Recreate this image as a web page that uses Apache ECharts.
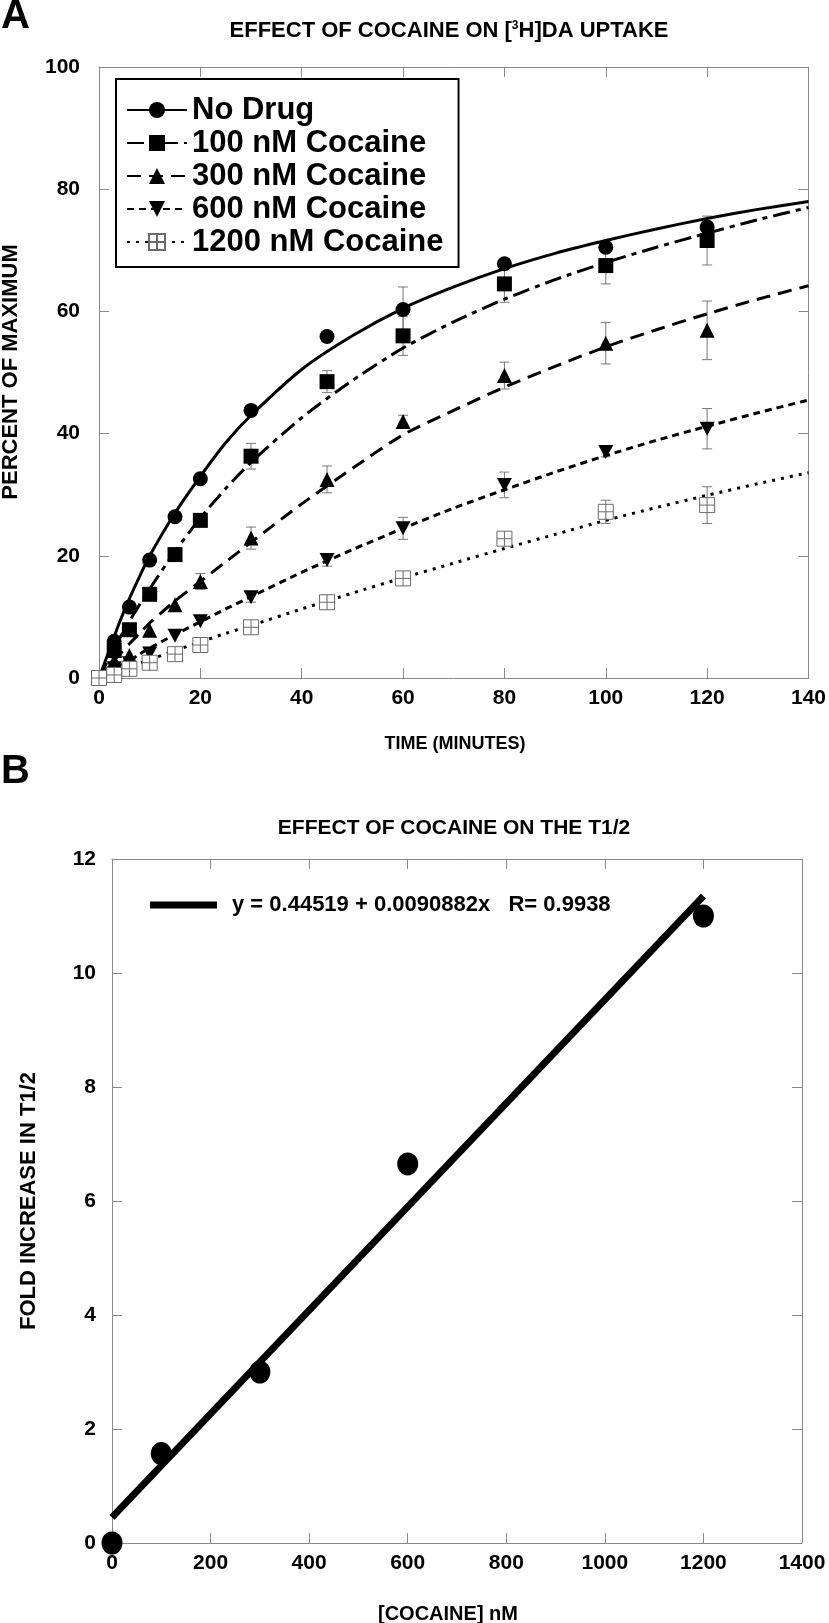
<!DOCTYPE html>
<html>
<head>
<meta charset="utf-8">
<script src="https://cdn.jsdelivr.net/npm/echarts@6/dist/echarts.min.js"></script>
<style>
html,body{margin:0;padding:0;background:#fff;}
#chart{width:829px;height:1623px;}
</style>
</head>
<body>
<div id="chart"></div>
<script>
// ---------- Panel A data ----------
const timeA = [0, 3, 6, 10, 15, 20, 30, 45, 60, 80, 100, 120];
const noDrug   = [null, 6.0, 11.6, 19.3, 26.4, 32.6, 43.8, 55.9, 60.3, 67.8, 70.5, 73.8];
const noDrugErr = [0, 0, 0, 0, 0, 0, 0, 0, 3.7, 0, 0, 0];
const coc100   = [null, 4.5, 7.9, 13.7, 20.2, 25.8, 36.3, 48.5, 56.0, 64.5, 67.5, 71.6];
const coc100Err = [0, 0, 0, 0, 0, 0, 2.1, 1.8, 3.2, 3.0, 3.0, 4.0];
const coc300   = [null, 2.8, 3.7, 7.8, 12.0, 15.8, 22.9, 32.5, 42.0, 49.5, 54.8, 56.9];
const coc300Err = [0, 0, 0, 0, 0, 1.3, 1.8, 2.2, 1.0, 2.2, 3.4, 4.8];
const coc600   = [null, 1.6, 2.4, 4.0, 6.9, 9.3, 13.2, 19.3, 24.5, 31.6, 37.0, 40.8];
const coc600Err = [0, 0, 0, 0, 0, 0, 0.8, 1.0, 1.8, 2.1, 0.8, 3.3];
const coc1200  = [0, 0.5, 1.5, 2.5, 3.9, 5.4, 8.3, 12.4, 16.3, 22.8, 27.2, 28.3];
const coc1200Err = [0, 0, 0, 0, 0, 0, 0, 0, 0.9, 0, 1.9, 3.0];

// fitted curves
const fitT       = [0, 2, 4, 6, 8, 10, 15, 20, 25, 30, 40, 50, 60, 70, 80, 90, 100, 110, 120, 130, 140];
const fitNoDrug  = [0, 4.5, 9, 13, 16.6, 20, 27, 33, 38.5, 43, 50.5, 56, 60.5, 64, 67, 69.5, 71.6, 73.5, 75.2, 76.7, 78];
const fit100     = [0, 3.3, 6.4, 9.3, 12, 14.6, 20.7, 26.2, 31, 35.3, 42.6, 48.7, 54, 58.3, 62, 65.2, 68, 70.5, 72.8, 75, 77];
const fit300     = [0, 1.9, 3.8, 5.6, 7.3, 9, 12.6, 15.8, 19, 22.2, 28.5, 34.3, 39.8, 43.8, 47.6, 51, 54.2, 57, 59.6, 62, 64.2];
const fit600     = [0, 1.0, 2.0, 2.9, 3.9, 4.9, 7.1, 9.2, 11.3, 13.3, 17.3, 21, 24.5, 27.8, 30.8, 33.7, 36.4, 38.9, 41.2, 43.4, 45.5];
const fit1200    = [0, 0.6, 1.2, 1.8, 2.4, 3.0, 4.5, 5.9, 7.3, 8.6, 11.3, 13.9, 16.4, 18.8, 21.2, 23.5, 25.8, 27.9, 29.9, 31.8, 33.6];

const seriesNamesA = ['No Drug', '100 nM Cocaine', '300 nM Cocaine', '600 nM Cocaine', '1200 nM Cocaine'];
const xTicksA = [0, 140, 20];
const yTicksA = [0, 100, 20];

// ---------- Panel B data ----------
const cocaineConc = [0, 100, 300, 600, 1200];
const foldT12     = [0, 1.57, 3.0, 6.65, 11.0];
const regX        = [0, 1200];
const regY        = [0.45, 11.35];
const regName     = 'y = 0.44519 + 0.0090882x   R= 0.9938';
const xTicksB = [0, 1400, 200];
const yTicksB = [0, 12, 2];

// ---------- styles ----------
const FONT = '"Liberation Sans", Arial, Helvetica, sans-serif';
const AX = '#8a8a8a';
const openSq = 'path://M0,0L10,0L10,10L0,10Z M5,0L5,10 M0,5L10,5';

const pairs = (xs, ys) => xs.map((x, i) => [x, ys[i]]).filter(p => p[1] !== null);
const errData = (xs, ys, es) => xs.map((x, i) => [x, ys[i] - es[i], ys[i] + es[i], es[i]]).filter(d => d[3] > 0);

const defsA = [
  {name: seriesNamesA[0], pts: noDrug, err: noDrugErr, fit: fitNoDrug, symbol: 'circle', size: 15, dash: 'solid',
   item: {color: '#000', opacity: 1}},
  {name: seriesNamesA[1], pts: coc100, err: coc100Err, fit: fit100, symbol: 'rect', size: 15, dash: [17, 6, 5, 6],
   item: {color: '#000', opacity: 1}},
  {name: seriesNamesA[2], pts: coc300, err: coc300Err, fit: fit300, symbol: 'triangle', size: 15, dash: [14, 8],
   item: {color: '#000', opacity: 1}},
  {name: seriesNamesA[3], pts: coc600, err: coc600Err, fit: fit600, symbol: 'path://M0,0L10,0L5,9Z', size: [15, 14], dash: [7, 5],
   item: {color: '#000', opacity: 1}},
  {name: seriesNamesA[4], pts: coc1200, err: coc1200Err, fit: fit1200, symbol: openSq, size: 15, dash: [3, 6],
   item: {color: '#fff', borderColor: '#6a6a6a', borderWidth: 1, opacity: 1}}
];

const errRender = function (params, api) {
  const x = api.value(0), lo = api.value(1), hi = api.value(2);
  const p1 = api.coord([x, lo]), p2 = api.coord([x, hi]);
  const w = 5;
  const st = {stroke: '#777', lineWidth: 1};
  return {type: 'group', children: [
    {type: 'line', shape: {x1: p1[0], y1: p1[1], x2: p2[0], y2: p2[1]}, style: st},
    {type: 'line', shape: {x1: p1[0] - w, y1: p1[1], x2: p1[0] + w, y2: p1[1]}, style: st},
    {type: 'line', shape: {x1: p2[0] - w, y1: p2[1], x2: p2[0] + w, y2: p2[1]}, style: st}
  ]};
};

const series = [];
// fitted curves (legend icons come from these)
defsA.forEach(d => {
  series.push({
    type: 'line', name: d.name, xAxisIndex: 0, yAxisIndex: 0,
    data: pairs(fitT, d.fit), smooth: 0.25,
    symbol: d.symbol, symbolSize: d.size, showSymbol: false,
    lineStyle: {color: '#000', width: 3, type: d.dash},
    itemStyle: d.item, z: 2, silent: true, animation: false
  });
});
// error bars
defsA.forEach(d => {
  series.push({
    type: 'custom', name: d.name, xAxisIndex: 0, yAxisIndex: 0,
    data: errData(timeA, d.pts, d.err), renderItem: errRender, z: 1, silent: true, animation: false
  });
});
// data points
defsA.forEach(d => {
  series.push({
    type: 'scatter', name: d.name, xAxisIndex: 0, yAxisIndex: 0,
    data: pairs(timeA, d.pts), symbol: d.symbol, symbolSize: d.size,
    itemStyle: d.item, z: 3, clip: false, silent: true, animation: false
  });
});
// Panel B
series.push({
  type: 'line', name: regName, xAxisIndex: 2, yAxisIndex: 2,
  data: pairs(regX, regY), symbol: 'none', showSymbol: false,
  lineStyle: {color: '#000', width: 7, cap: 'butt'}, itemStyle: {color: '#000', opacity: 1}, z: 2, silent: true, animation: false
});
series.push({
  type: 'scatter', name: 'points', xAxisIndex: 2, yAxisIndex: 2,
  data: pairs(cocaineConc, foldT12), symbol: 'circle', symbolSize: [21, 23],
  itemStyle: {color: '#000', opacity: 1}, z: 3, clip: false, silent: true, animation: false
});

const labelStyle = {fontFamily: FONT, fontWeight: 'bold', fontSize: 21, color: '#000'};
function mkAxis(gridIndex, pos, ticks, showLabel, margin) {
  return {
    type: 'value', gridIndex, position: pos, min: ticks[0], max: ticks[1], interval: ticks[2],
    axisLine: {show: true, onZero: false, lineStyle: {color: AX, width: 1}},
    axisTick: {show: true, inside: true, length: 10, lineStyle: {color: AX, width: 1}},
    axisLabel: Object.assign({show: showLabel, margin: margin, formatter: v => String(v)}, labelStyle),
    splitLine: {show: false}
  };
}

const txt = (text, x, y, size, extra) => Object.assign({
  type: 'text', x, y,
  style: {text, fontFamily: FONT, fontWeight: 'bold', fontSize: size, fill: '#000', align: 'center', verticalAlign: 'middle'}
}, extra || {});

const option = {
  backgroundColor: '#fff',
  animation: false,
  grid: [
    {left: 99, top: 67, width: 711, height: 611, show: false},
    {left: 112, top: 859, width: 690, height: 684, show: false}
  ],
  xAxis: [
    mkAxis(0, 'bottom', xTicksA, true, 10),
    mkAxis(0, 'top', xTicksA, false, 8),
    mkAxis(1, 'bottom', xTicksB, true, 10),
    mkAxis(1, 'top', xTicksB, false, 8)
  ],
  yAxis: [
    mkAxis(0, 'left', yTicksA, true, 19),
    mkAxis(0, 'right', yTicksA, false, 8),
    mkAxis(1, 'left', yTicksB, true, 16),
    mkAxis(1, 'right', yTicksB, false, 8)
  ],
  legend: [
    {
      data: seriesNamesA, orient: 'vertical', left: 116, top: 79,
      padding: [15, 15, 9, 10], itemGap: 1, itemWidth: 60, itemHeight: 20,
      borderColor: '#000', borderWidth: 2, backgroundColor: '#fff',
      selectedMode: false,
      textStyle: {fontFamily: FONT, fontWeight: 'bold', fontSize: 31, lineHeight: 32, color: '#000'}
    },
    {
      data: [{name: regName, icon: 'rect'}], orient: 'horizontal', left: 145, top: 889,
      itemWidth: 67, itemHeight: 7, selectedMode: false,
      itemStyle: {color: '#000'},
      textStyle: {fontFamily: FONT, fontWeight: 'bold', fontSize: 22, color: '#000', padding: [0, 0, 0, 10]}
    }
  ],
  graphic: [
    {type: 'text', x: 1, y: 17, style: {text: 'A', fontFamily: FONT, fontWeight: 'bold', fontSize: 40, fill: '#000', align: 'left', verticalAlign: 'middle'}},
    {
      type: 'text', x: 449, y: 31,
      style: {
        text: 'EFFECT OF COCAINE ON [{s|3}H]DA UPTAKE',
        fontFamily: FONT, fontWeight: 'bold', fontSize: 22, fill: '#000', align: 'center', verticalAlign: 'middle',
        rich: {s: {fontFamily: FONT, fontWeight: 'bold', fontSize: 12, verticalAlign: 'top', fill: '#000'}}
      }
    },
    txt('TIME (MINUTES)', 455, 744, 18),
    txt('PERCENT OF MAXIMUM', 11, 372, 22, {rotation: Math.PI / 2}),
    {type: 'text', x: 1, y: 772, style: {text: 'B', fontFamily: FONT, fontWeight: 'bold', fontSize: 40, fill: '#000', align: 'left', verticalAlign: 'middle'}},
    txt('EFFECT OF COCAINE ON THE T1/2', 454, 828, 21),
    txt('[COCAINE] nM', 448, 1614, 20),
    txt('FOLD INCREASE IN T1/2', 29, 1201, 22, {rotation: Math.PI / 2})
  ],
  series
};

const chart = echarts.init(document.getElementById('chart'), null, {renderer: 'canvas'});
chart.setOption(option);
</script>
</body>
</html>
